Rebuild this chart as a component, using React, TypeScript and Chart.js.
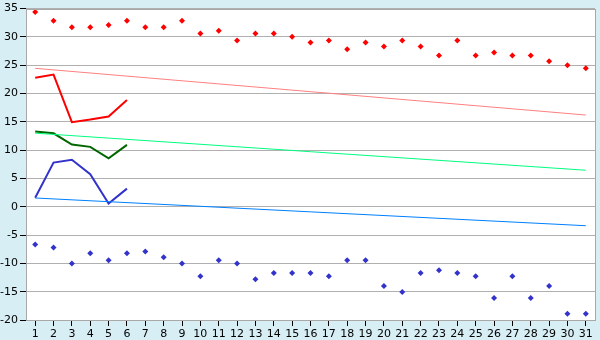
import React, { useEffect, useRef } from "react";
import { Chart, registerables } from "chart.js";

Chart.register(...registerables);

const categories = Array.from({ length: 31 }, (_, i) => String(i + 1));

const highPoints = [
  34.4, 32.85, 31.7, 31.7, 32.1, 32.85, 31.7, 31.7, 32.85, 30.6,
  31.1, 29.35, 30.6, 30.6, 30.05, 29.0, 29.35, 27.8, 29.0, 28.3,
  29.35, 28.3, 26.7, 29.35, 26.7, 27.25, 26.7, 26.7, 25.7, 25.0, 24.45,
];

const lowPoints = [
  -6.66, -7.2, -10.0, -8.23, -9.46, -8.23, -7.9, -8.9, -10.0, -12.26,
  -9.46, -10.0, -12.8, -11.7, -11.7, -11.7, -12.26, -9.46, -9.46, -14.0,
  -15.05, -11.7, -11.2, -11.7, -12.26, -16.1, -12.26, -16.1, -14.0, -18.9, -18.9,
];

const redLine = [22.8, 23.35, 14.95, 15.4, 15.95, 18.85];
const greenLine = [13.3, 12.97, 11.0, 10.58, 8.55, 10.93];
const blueLine = [1.6, 7.8, 8.3, 5.75, 0.56, 3.2];

// trend lines: value at first and last category
const redTrend = [24.45, 16.2];
const greenTrend = [13.0, 6.45];
const blueTrend = [1.55, -3.35];

const yTicks = { min: -20, max: 35, step: 5 };

function pad(vals: number[]): (number | null)[] {
  return categories.map((_, i) => (i < vals.length ? vals[i] : null));
}
function ends(pair: number[]): (number | null)[] {
  return categories.map((_, i) =>
    i === 0 ? pair[0] : i === categories.length - 1 ? pair[1] : null
  );
}

const frame = {
  id: "frame",
  beforeDraw(chart: any) {
    const { ctx, chartArea } = chart;
    ctx.save();
    ctx.fillStyle = "#d8eef5";
    ctx.fillRect(0, 0, chart.width, chart.height);
    ctx.fillStyle = "#ffffff";
    ctx.fillRect(
      chartArea.left,
      chartArea.top,
      chartArea.right - chartArea.left,
      chartArea.bottom - chartArea.top
    );
    ctx.restore();
  },
  afterDatasetsDraw(chart: any) {
    const { ctx, chartArea } = chart;
    ctx.save();
    ctx.strokeStyle = "#a8a8a8";
    ctx.lineWidth = 1;
    ctx.strokeRect(
      Math.round(chartArea.left) + 0.5,
      Math.round(chartArea.top) + 0.5,
      Math.round(chartArea.right - chartArea.left),
      Math.round(chartArea.bottom - chartArea.top)
    );
    ctx.restore();
  },
};

export default function App() {
  const ref = useRef<HTMLCanvasElement | null>(null);
  useEffect(() => {
    if (!ref.current) return;
    Chart.defaults.font.family = "'DejaVu Sans', sans-serif";
    Chart.defaults.font.size = 11;
    Chart.defaults.color = "#000000";
    const thick = (data: (number | null)[], color: string) => ({
      type: "line" as const,
      data,
      borderColor: color,
      backgroundColor: color,
      borderWidth: 2,
      pointRadius: 0,
      tension: 0,
      spanGaps: false,
    });
    const thin = (data: (number | null)[], color: string) => ({
      type: "line" as const,
      data,
      borderColor: color,
      backgroundColor: color,
      borderWidth: 1,
      pointRadius: 0,
      tension: 0,
      spanGaps: true,
    });
    const dots = (data: number[], color: string) => ({
      type: "line" as const,
      data,
      showLine: false,
      borderColor: color,
      backgroundColor: color,
      pointStyle: "rectRot" as const,
      pointRadius: 3,
      pointBorderWidth: 0,
    });
    const chart = new Chart(ref.current, {
      type: "line",
      data: {
        labels: categories,
        datasets: [
          thin(ends(redTrend), "#ff8080"),
          thin(ends(greenTrend), "#00ff80"),
          thin(ends(blueTrend), "#0080ff"),
          thick(pad(redLine), "#ff0000"),
          thick(pad(greenLine), "#006600"),
          thick(pad(blueLine), "#3333cc"),
          dots(highPoints, "#ff0000"),
          dots(lowPoints, "#3333cc"),
        ] as any,
      },
      plugins: [frame],
      options: {
        animation: false,
        responsive: false,
        events: [],
        layout: { padding: { top: 5, right: 5, left: 0, bottom: 0 } },
        plugins: { legend: { display: false }, tooltip: { enabled: false } },
        scales: {
          x: {
            type: "category",
            offset: true,
            grid: {
              drawOnChartArea: false,
              drawTicks: true,
              tickLength: 6,
              tickColor: "#000000",
              offset: false,
            },
            border: { color: "#a8a8a8" },
            ticks: { padding: 2, autoSkip: false, maxRotation: 0 },
            afterFit: (s: any) => {
              s.height = 20;
            },
          },
          y: {
            min: yTicks.min,
            max: yTicks.max,
            grid: {
              color: "#b0b0b0",
              tickLength: 6,
              tickColor: "#000000",
            },
            border: { color: "#a8a8a8" },
            ticks: { stepSize: yTicks.step, padding: 2 },
            afterFit: (s: any) => {
              s.width = 26;
            },
          },
        },
      },
    });
    return () => chart.destroy();
  }, []);
  return (
    <div style={{ position: "absolute", left: 0, top: 0 }}>
      <canvas ref={ref} width={600} height={340} />
    </div>
  );
}
